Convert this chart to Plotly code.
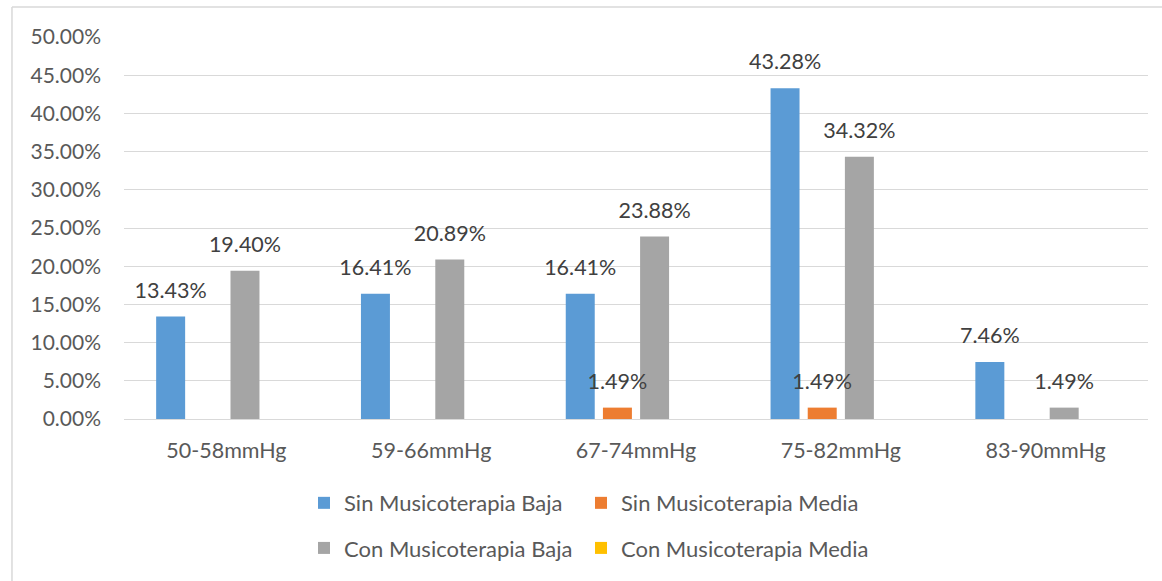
import plotly.graph_objects as go

# Diastolic pressure ranges and share of patients per group
categories = ["50-58mmHg", "59-66mmHg", "67-74mmHg", "75-82mmHg", "83-90mmHg"]
sin_baja = [13.43, 16.41, 16.41, 43.28, 7.46]
sin_media = [0.0, 0.0, 1.49, 1.49, 0.0]
con_baja = [19.40, 20.89, 23.88, 34.32, 1.49]
con_media = [0.0, 0.0, 0.0, 0.0, 0.0]

# each series gets its own legend box so the entries form a 2x2 grid
series = [
    ("Sin Musicoterapia Baja", sin_baja, "#5B9BD5", "legend", 0.1758, -0.22),
    ("Sin Musicoterapia Media", sin_media, "#ED7D31", "legend2", 0.4463, -0.22),
    ("Con Musicoterapia Baja", con_baja, "#A5A5A5", "legend3", 0.1758, -0.338),
    ("Con Musicoterapia Media", con_media, "#FFC000", "legend4", 0.4463, -0.338),
]

FONT = "Lato"
TXT = "#595959"
GRID = "#D9D9D9"

fig = go.Figure()

for i, (name, vals, color, leg, lx, ly) in enumerate(series):
    fig.add_trace(go.Bar(
        x=categories, y=vals, name=name, marker=dict(color=color, line=dict(width=0)),
        offsetgroup=str(i), legend=leg,
    ))

# value labels sit above each non-zero bar
for i, (name, vals, color, leg, lx, ly) in enumerate(series):
    labels = [f"{v:.2f}%" if v > 0 else "" for v in vals]
    fig.add_trace(go.Scatter(
        x=categories, y=vals, mode="markers+text", text=labels,
        textposition="top center", offsetgroup=str(i),
        marker=dict(size=20, opacity=0), showlegend=False, hoverinfo="skip",
        textfont=dict(family=FONT, size=21.5, color="#404040"), cliponaxis=False,
    ))

legends = {}
for name, vals, color, leg, lx, ly in series:
    legends[leg] = dict(orientation="h", x=lx, xanchor="left", y=ly, yanchor="middle",
                        font=dict(family=FONT, size=22, color=TXT),
                        bgcolor="rgba(0,0,0,0)")

fig.update_layout(
    width=1162, height=581,
    margin=dict(l=124, r=14, t=37, b=162),
    paper_bgcolor="white", plot_bgcolor="white",
    barmode="group", bargap=0.274, bargroupgap=0.22,
    scattermode="group", scattergap=0.274,
    font=dict(family=FONT, size=18, color=TXT),
    yaxis=dict(range=[0, 50], dtick=5, tickformat=".2f", ticksuffix="%",
               showgrid=True, gridcolor=GRID, gridwidth=1.3, zeroline=False,
               showline=False, ticklabelstandoff=22,
               tickfont=dict(family=FONT, size=21, color=TXT)),
    xaxis=dict(showgrid=False, showline=True, linecolor=GRID, linewidth=1.3,
               ticks="", ticklabelstandoff=12,
               tickfont=dict(family=FONT, size=21.5, color=TXT)),
    showlegend=True,
    **legends,
)

# chart area frame (left and top edges)
fig.add_shape(type="line", xref="paper", yref="paper", x0=-0.1094, x1=-0.1094,
              y0=1.0785, y1=-0.6, line=dict(color=GRID, width=1.5))
fig.add_shape(type="line", xref="paper", yref="paper", x0=-0.1094, x1=1.1,
              y0=1.0785, y1=1.0785, line=dict(color=GRID, width=1.5))

fig.write_html("out.html")
